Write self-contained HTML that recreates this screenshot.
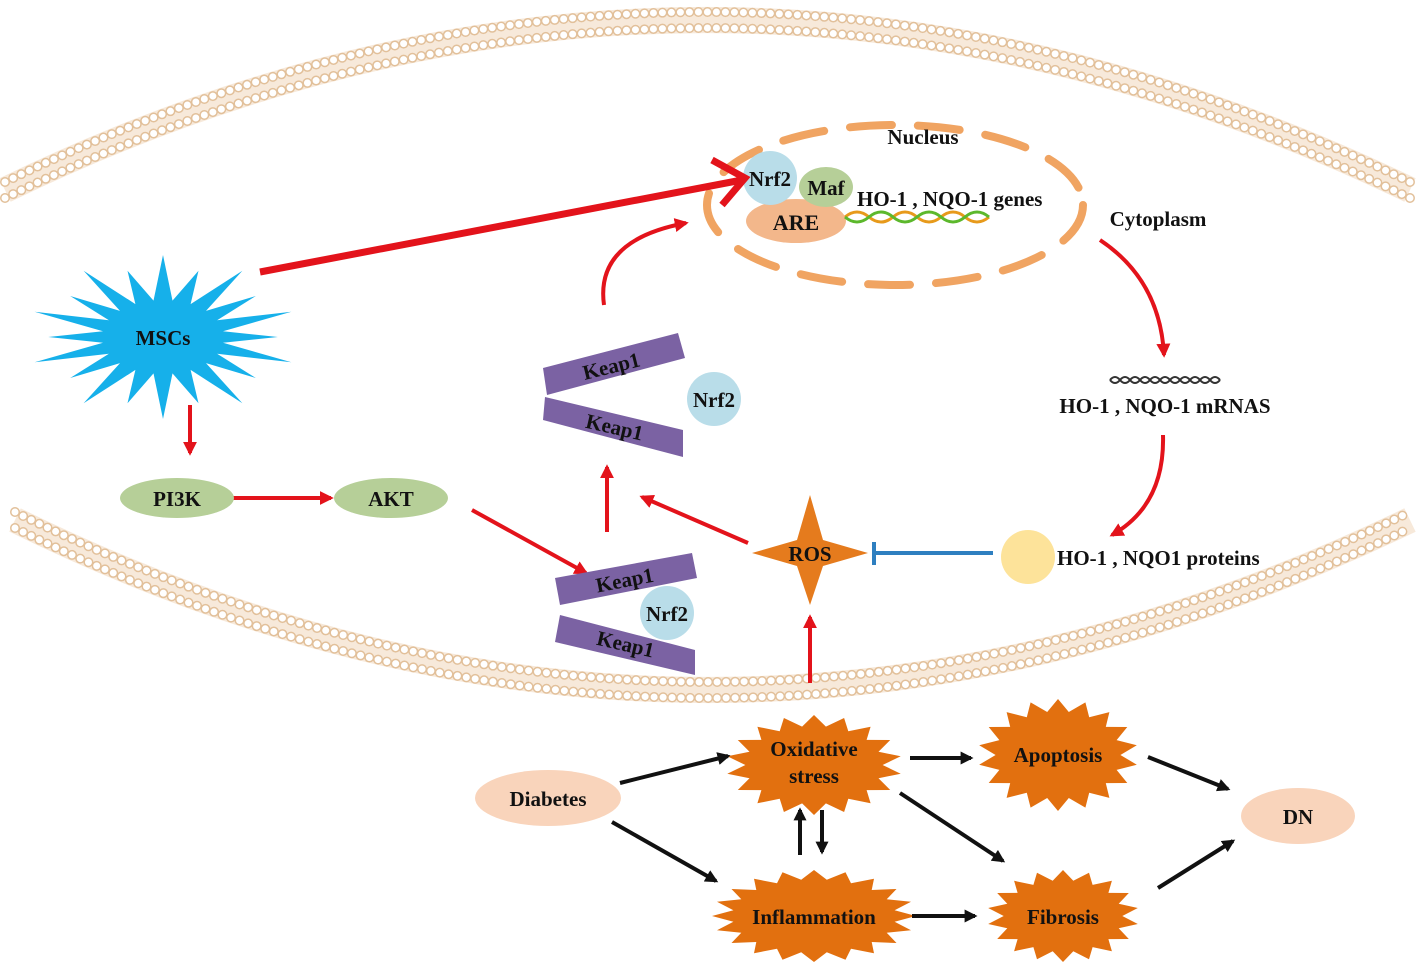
<!DOCTYPE html>
<html><head><meta charset="utf-8"><style>
html,body{margin:0;padding:0;background:#fff;}
svg text{font-family:"Liberation Serif",serif;font-weight:bold;fill:#111;}
</style></head><body>
<svg id="s" width="1418" height="962" viewBox="0 0 1418 962" xmlns="http://www.w3.org/2000/svg">
<defs>
<marker id="ar" markerWidth="14" markerHeight="14" refX="8" refY="5" orient="auto" markerUnits="userSpaceOnUse" viewBox="0 0 10 10"><path d="M0,0 L10,5 L0,10 z" fill="#e3131b"/></marker>
<marker id="ab" markerWidth="13" markerHeight="13" refX="8" refY="5" orient="auto" markerUnits="userSpaceOnUse" viewBox="0 0 10 10"><path d="M0,0 L10,5 L0,10 z" fill="#111"/></marker>
</defs>
<g fill="none">
<path d="M5,190 Q705,-150 1410,190" stroke="#f7e9da" stroke-width="26"/>
<path d="M5,182 Q705,-158 1410,182" stroke="#e2c09a" stroke-width="10" stroke-dasharray="0 9" stroke-linecap="round"/>
<path d="M5,198 Q705,-142 1410,198" stroke="#e2c09a" stroke-width="10" stroke-dasharray="0 9" stroke-linecap="round"/>
<path d="M5,182 Q705,-158 1410,182" stroke="#fff" stroke-width="7" stroke-dasharray="0 9" stroke-linecap="round"/>
<path d="M5,198 Q705,-142 1410,198" stroke="#fff" stroke-width="7" stroke-dasharray="0 9" stroke-linecap="round"/>
<path d="M15,520 Q705,860 1410,520" stroke="#f7e9da" stroke-width="26"/>
<path d="M15,512 Q705,852 1410,512" stroke="#e2c09a" stroke-width="10" stroke-dasharray="0 9" stroke-linecap="round"/>
<path d="M15,528 Q705,868 1410,528" stroke="#e2c09a" stroke-width="10" stroke-dasharray="0 9" stroke-linecap="round"/>
<path d="M15,512 Q705,852 1410,512" stroke="#fff" stroke-width="7" stroke-dasharray="0 9" stroke-linecap="round"/>
<path d="M15,528 Q705,868 1410,528" stroke="#fff" stroke-width="7" stroke-dasharray="0 9" stroke-linecap="round"/>
</g>
<ellipse cx="895" cy="205" rx="188" ry="80" fill="none" stroke="#f0a462" stroke-width="8" stroke-dasharray="42 26" stroke-linecap="round"/>
<text x="923" y="144" font-size="21" text-anchor="middle">Nucleus</text>
<ellipse cx="796" cy="221" rx="50" ry="22" fill="#f3b78b"/>
<circle cx="770" cy="178" r="27" fill="#b9dde9"/>
<ellipse cx="826" cy="187" rx="27" ry="20" fill="#b6cf98"/>
<text x="770" y="186" font-size="21" text-anchor="middle">Nrf2</text>
<text x="826" y="195" font-size="21" text-anchor="middle">Maf</text>
<text x="796" y="230" font-size="22" text-anchor="middle">ARE</text>
<text x="857" y="206" font-size="21">HO-1 , NQO-1 genes</text>
<path d="M845,217 q12,-10 24,0 t24,0 t24,0 t24,0 t24,0 t24,0" fill="none" stroke="#e79a1b" stroke-width="3"/>
<path d="M845,217 q12,10 24,0 t24,0 t24,0 t24,0 t24,0 t24,0" fill="none" stroke="#5cb82c" stroke-width="3"/>
<text x="1158" y="226" font-size="21" text-anchor="middle">Cytoplasm</text>
<line x1="260" y1="272" x2="742" y2="180" stroke="#e3131b" stroke-width="7"/>
<path d="M712,160 L745,178 L722,205" fill="none" stroke="#e3131b" stroke-width="7"/>
<g stroke="#e3131b" stroke-width="4" fill="none" marker-end="url(#ar)">
<path d="M604,305 Q595,240 686,223"/>
<path d="M1100,240 Q1160,280 1164,355"/>
<path d="M1163,435 Q1165,505 1112,535"/>
<line x1="810" y1="683" x2="810" y2="617"/>
<line x1="748" y1="543" x2="642" y2="497"/>
<line x1="607" y1="532" x2="607" y2="467"/>
<line x1="472" y1="510" x2="586" y2="573"/>
<line x1="190" y1="405" x2="190" y2="453"/>
<line x1="233" y1="498" x2="331" y2="498"/>
</g>
<path d="M1110,380 q5,-6 10,0 t10,0 t10,0 t10,0 t10,0 t10,0 t10,0 t10,0 t10,0 t10,0 t10,0" fill="none" stroke="#333" stroke-width="2"/>
<path d="M1110,380 q5,6 10,0 t10,0 t10,0 t10,0 t10,0 t10,0 t10,0 t10,0 t10,0 t10,0 t10,0" fill="none" stroke="#333" stroke-width="2"/>
<text x="1165" y="413" font-size="21" text-anchor="middle">HO-1 , NQO-1 mRNAS</text>
<circle cx="1028" cy="557" r="27" fill="#fde39a"/>
<text x="1057" y="565" font-size="21">HO-1 , NQO1 proteins</text>
<line x1="993" y1="553" x2="874" y2="553" stroke="#2e7fc0" stroke-width="4"/>
<line x1="874" y1="542" x2="874" y2="565" stroke="#2e7fc0" stroke-width="4"/>
<polygon points="810,495 823,540 868,553 823,566 810,605 797,566 752,553 797,540" fill="#e57b1d"/>
<text x="810" y="561" font-size="21" text-anchor="middle">ROS</text>
<g fill="#7b62a3">
<polygon points="543,368 678,333 685,358 547,395"/>
<polygon points="545,397 683,430 683,457 543,420"/>
<polygon points="555,578 692,553 697,578 560,605"/>
<polygon points="560,615 695,650 695,675 555,642"/>
</g>
<text font-size="21" transform="translate(613,373) rotate(-14)" text-anchor="middle">Keap1</text>
<text font-size="21" transform="translate(613,434) rotate(13)" text-anchor="middle">Keap1</text>
<text font-size="21" transform="translate(626,587) rotate(-11)" text-anchor="middle">Keap1</text>
<text font-size="21" transform="translate(624,651) rotate(13)" text-anchor="middle">Keap1</text>
<circle cx="714" cy="399" r="27" fill="#b9dde9"/>
<text x="714" y="407" font-size="21" text-anchor="middle">Nrf2</text>
<circle cx="667" cy="613" r="27" fill="#b9dde9"/>
<text x="667" y="621" font-size="21" text-anchor="middle">Nrf2</text>
<polygon id="msc" fill="#16b0ea"/>
<text x="163" y="345" font-size="21" text-anchor="middle">MSCs</text>
<ellipse cx="177" cy="498" rx="57" ry="20" fill="#b6cf98"/>
<text x="177" y="506" font-size="21" text-anchor="middle">PI3K</text>
<ellipse cx="391" cy="498" rx="57" ry="20" fill="#b6cf98"/>
<text x="391" y="506" font-size="21" text-anchor="middle">AKT</text>
<ellipse cx="548" cy="798" rx="73" ry="28" fill="#f9d4bb"/>
<text x="548" y="806" font-size="21" text-anchor="middle">Diabetes</text>
<ellipse cx="1298" cy="816" rx="57" ry="28" fill="#f9d4bb"/>
<text x="1298" y="824" font-size="21" text-anchor="middle">DN</text>
<polygon id="b1" fill="#e2700f"/><polygon id="b2" fill="#e2700f"/><polygon id="b3" fill="#e2700f"/><polygon id="b4" fill="#e2700f"/>
<text x="814" y="756" font-size="21" text-anchor="middle">Oxidative</text>
<text x="814" y="783" font-size="21" text-anchor="middle">stress</text>
<text x="1058" y="762" font-size="21" text-anchor="middle">Apoptosis</text>
<text x="814" y="924" font-size="21" text-anchor="middle">Inflammation</text>
<text x="1063" y="924" font-size="21" text-anchor="middle">Fibrosis</text>
<g stroke="#111" stroke-width="4" marker-end="url(#ab)">
<line x1="620" y1="783" x2="728" y2="756"/>
<line x1="612" y1="822" x2="716" y2="881"/>
<line x1="910" y1="758" x2="971" y2="758"/>
<line x1="900" y1="793" x2="1003" y2="861"/>
<line x1="800" y1="855" x2="800" y2="810"/>
<line x1="822" y1="810" x2="822" y2="852"/>
<line x1="912" y1="916" x2="975" y2="916"/>
<line x1="1148" y1="757" x2="1228" y2="789"/>
<line x1="1158" y1="888" x2="1233" y2="841"/>
</g>
<script>
function star(id,cx,cy,rx,ry,n,inner,jit){
 var p=[];for(var i=0;i<2*n;i++){var a=Math.PI*i/n-Math.PI/2;var f=i%2?inner:1;if(jit&&i%2==0)f*=(i%4==0?1:0.85);p.push((cx+rx*f*Math.cos(a)).toFixed(1)+","+(cy+ry*f*Math.sin(a)).toFixed(1));}
 document.getElementById(id).setAttribute("points",p.join(" "));}
star("msc",163,337,135,82,20,0.45,true);
star("b1",814,765,88,50,18,0.78);
star("b2",1058,755,80,56,18,0.78);
star("b3",814,916,102,46,20,0.8);
star("b4",1063,916,76,46,18,0.78);
</script>
</svg>
</body></html>
